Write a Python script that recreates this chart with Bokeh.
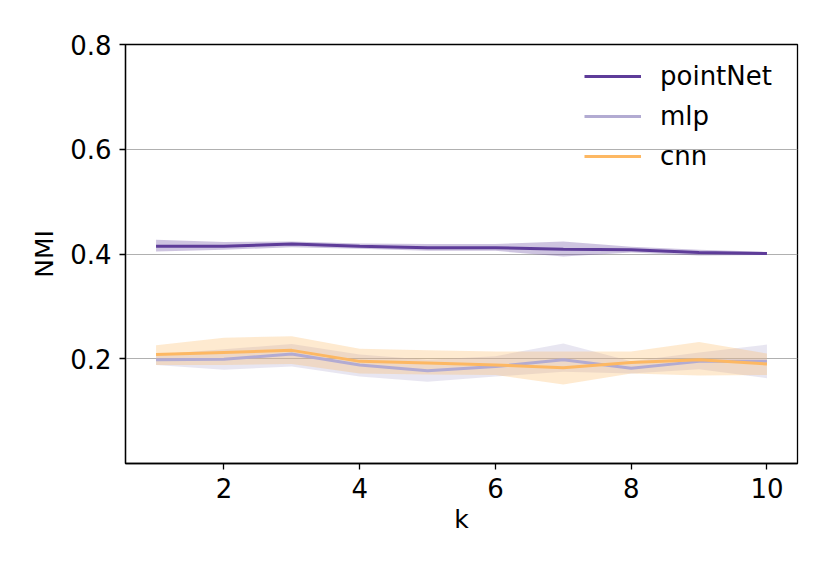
from bokeh.plotting import figure
from bokeh.models import FixedTicker, Range1d, Legend, LegendItem
from bokeh.embed import file_html
from bokeh.resources import INLINE

k = [1, 2, 3, 4, 5, 6, 7, 8, 9, 10]

pointnet_mean = [0.415, 0.415, 0.419, 0.415, 0.412, 0.412, 0.409, 0.408, 0.403, 0.401]
pointnet_lo = [0.405, 0.408, 0.413, 0.410, 0.406, 0.406, 0.395, 0.403, 0.397, 0.398]
pointnet_hi = [0.427, 0.423, 0.424, 0.420, 0.419, 0.419, 0.424, 0.414, 0.408, 0.404]

mlp_mean = [0.198, 0.199, 0.209, 0.188, 0.177, 0.185, 0.198, 0.182, 0.195, 0.195]
mlp_lo = [0.188, 0.179, 0.185, 0.166, 0.156, 0.166, 0.175, 0.172, 0.180, 0.163]
mlp_hi = [0.208, 0.218, 0.228, 0.208, 0.198, 0.205, 0.229, 0.195, 0.212, 0.227]

cnn_mean = [0.208, 0.212, 0.216, 0.195, 0.192, 0.188, 0.183, 0.193, 0.198, 0.190]
cnn_lo = [0.188, 0.188, 0.190, 0.172, 0.170, 0.169, 0.151, 0.172, 0.168, 0.169]
cnn_hi = [0.226, 0.240, 0.243, 0.219, 0.216, 0.214, 0.214, 0.214, 0.232, 0.210]

series_names = ["pointNet", "mlp", "cnn"]
colors = ["#5e3c99", "#b2abd2", "#fdb863"]
y_ticks = [0.2, 0.4, 0.6, 0.8]
x_ticks = [2, 4, 6, 8, 10]

FONT = "DejaVu Sans"

p = figure(width=814, height=554, output_backend="svg", toolbar_location=None,
           x_range=Range1d(0.55, 10.45), y_range=Range1d(0.0, 0.8),
           min_border_left=125, min_border_right=17, min_border_top=44, min_border_bottom=91)

p.background_fill_color = "white"
p.border_fill_color = "white"
p.outline_line_color = "black"
p.outline_line_width = 1.3

series = [
    (pointnet_mean, pointnet_lo, pointnet_hi),
    (mlp_mean, mlp_lo, mlp_hi),
    (cnn_mean, cnn_lo, cnn_hi),
]

items = []
for (mean, lo, hi), name, c in zip(series, series_names, colors):
    p.varea(x=k, y1=lo, y2=hi, fill_color=c, fill_alpha=0.3)
for (mean, lo, hi), name, c in zip(series, series_names, colors):
    r = p.line(x=k, y=mean, line_color=c, line_width=3)
    items.append(LegendItem(label=name, renderers=[r]))

legend = Legend(items=items, location="top_right")
legend.background_fill_alpha = 0
legend.border_line_alpha = 0
legend.label_text_font = FONT
legend.label_text_font_size = "26px"
legend.label_text_color = "black"
legend.label_height = 30
legend.label_width = 120
legend.glyph_width = 57
legend.glyph_height = 30
legend.label_standoff = 19
legend.spacing = 10
legend.margin = 13
legend.padding = 4
p.add_layout(legend)

p.xaxis.ticker = FixedTicker(ticks=x_ticks)
p.yaxis.ticker = FixedTicker(ticks=y_ticks)
for ax in [p.xaxis[0], p.yaxis[0]]:
    ax.major_label_text_font = FONT
    ax.major_label_text_font_size = "26px"
    ax.major_label_text_color = "black"
    ax.axis_label_text_font = FONT
    ax.axis_label_text_font_size = "25px"
    ax.axis_label_text_font_style = "normal"
    ax.axis_label_text_color = "black"
    ax.major_tick_out = 6
    ax.major_tick_in = 0
    ax.minor_tick_out = 0
    ax.minor_tick_in = 0
    ax.axis_line_color = "black"
    ax.axis_line_width = 1.3
    ax.major_tick_line_color = "black"
    ax.major_tick_line_width = 1.3
p.xaxis.axis_label = "k"
p.yaxis.axis_label = "NMI"
p.xaxis.major_label_standoff = 8
p.yaxis.major_label_standoff = 8
p.xaxis.axis_label_standoff = 4
p.yaxis.axis_label_standoff = 8

p.xgrid.visible = False
p.ygrid.grid_line_color = "#b0b0b0"
p.ygrid.grid_line_width = 1.2

open("out.html", "w").write(file_html(p, INLINE))
